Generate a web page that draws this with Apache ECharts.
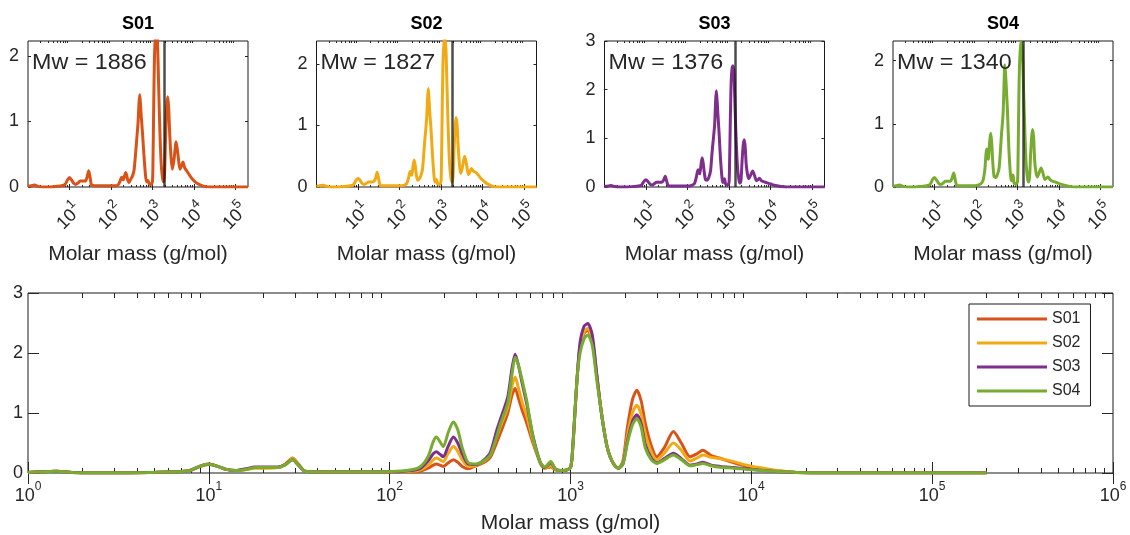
<!DOCTYPE html>
<html>
<head>
<meta charset="utf-8">
<script src="https://cdn.jsdelivr.net/npm/echarts@6/dist/echarts.min.js"></script>
<style>
  html, body { margin: 0; padding: 0; background: #ffffff; }
  #chart { width: 1130px; height: 535px; }
</style>
</head>
<body>
<div id="chart"></div>
<script>
// Molar mass distributions of four samples (log molar mass axis).
const sampleNames = ['S01', 'S02', 'S03', 'S04'];
const mwValues = [1886, 1827, 1376, 1340];

const molarMass = [
  1, 1.2, 1.44, 1.75, 2.2, 3.5, 5, 6.5, 7.8, 9, 10, 11.2, 12.5, 14, 16, 18, 21, 24, 26.5, 29, 31.5, 34,
  40, 60, 85, 110, 130, 147, 163, 174, 181, 190, 198, 211, 225, 238, 252, 272, 300, 330, 360, 390,
  410, 450, 475, 494, 515, 540, 573, 620, 680, 720, 778, 830, 920, 1000, 1030, 1060, 1090, 1130,
  1190, 1247, 1320, 1397, 1460, 1522, 1590, 1656, 1750, 1841, 1950, 2064, 2200, 2326, 2460, 2590,
  2800, 3000, 3300, 3706, 4100, 4585, 5000, 5395, 6000, 6720, 8000, 9440, 11000, 13200, 17800,
  25000, 200000
];

const s01 = [
  0.01, 0.02, 0.03, 0.01, 0, 0, 0.01, 0.02, 0.04, 0.11, 0.145, 0.11, 0.06, 0.04, 0.06, 0.09, 0.09, 0.09, 0.15, 0.25, 0.14, 0.03,
  0.02, 0.02, 0.02, 0.02, 0.02, 0.03, 0.08, 0.13, 0.15, 0.13, 0.11, 0.17, 0.22, 0.18, 0.11, 0.07, 0.12, 0.17, 0.26, 0.5,
  0.67, 1.0, 1.3, 1.41, 1.25, 1.05, 0.83, 0.5, 0.17, 0.08, 0.1, 0.05, 0.04, 0.09, 0.45, 1.05, 1.62, 2.1,
  2.33, 2.38, 2.2, 1.62, 1.15, 0.77, 0.45, 0.27, 0.13, 0.08, 0.2, 0.76, 1.22, 1.38, 1.2, 0.83,
  0.45, 0.27, 0.42, 0.69, 0.5, 0.27, 0.32, 0.38, 0.29, 0.245, 0.17, 0.11, 0.07, 0.04, 0.01,
  0, 0
];
const s02 = [
  0.01, 0.02, 0.03, 0.01, 0, 0, 0.01, 0.02, 0.04, 0.11, 0.14, 0.11, 0.06, 0.04, 0.06, 0.08, 0.08, 0.09, 0.14, 0.24, 0.13, 0.03,
  0.02, 0.02, 0.02, 0.02, 0.03, 0.05, 0.13, 0.22, 0.25, 0.22, 0.19, 0.33, 0.44, 0.36, 0.22, 0.11, 0.13, 0.19, 0.3, 0.6,
  0.78, 1.1, 1.45, 1.6, 1.42, 1.18, 0.95, 0.55, 0.17, 0.08, 0.12, 0.05, 0.04, 0.09, 0.45, 1.05, 1.62, 2.12,
  2.36, 2.41, 2.22, 1.62, 1.15, 0.77, 0.45, 0.27, 0.13, 0.08, 0.17, 0.62, 1.0, 1.13, 0.98, 0.66,
  0.35, 0.22, 0.33, 0.5, 0.38, 0.2, 0.25, 0.3, 0.26, 0.24, 0.19, 0.13, 0.09, 0.05, 0.01,
  0, 0
];
const s03 = [
  0.01, 0.02, 0.03, 0.01, 0, 0, 0.01, 0.02, 0.04, 0.12, 0.15, 0.11, 0.06, 0.04, 0.07, 0.1, 0.1, 0.1, 0.14, 0.22, 0.12, 0.03,
  0.02, 0.02, 0.02, 0.02, 0.04, 0.07, 0.2, 0.32, 0.355, 0.31, 0.27, 0.45, 0.6, 0.5, 0.32, 0.15, 0.14, 0.21, 0.34, 0.7,
  0.9, 1.27, 1.75, 1.98, 1.8, 1.5, 1.15, 0.62, 0.18, 0.09, 0.17, 0.06, 0.04, 0.09, 0.45, 1.05, 1.62, 2.18,
  2.45, 2.49, 2.3, 1.65, 1.15, 0.77, 0.45, 0.27, 0.13, 0.08, 0.15, 0.53, 0.86, 0.97, 0.82, 0.48,
  0.25, 0.17, 0.24, 0.33, 0.24, 0.13, 0.15, 0.18, 0.13, 0.11, 0.09, 0.07, 0.05, 0.03, 0.01,
  0, 0
];
const s04 = [
  0.01, 0.02, 0.03, 0.01, 0, 0, 0.01, 0.02, 0.04, 0.12, 0.15, 0.11, 0.06, 0.04, 0.06, 0.09, 0.09, 0.09, 0.14, 0.22, 0.12, 0.03,
  0.02, 0.02, 0.02, 0.03, 0.05, 0.1, 0.27, 0.52, 0.6, 0.52, 0.44, 0.68, 0.85, 0.72, 0.42, 0.17, 0.15, 0.2, 0.3, 0.6,
  0.82, 1.17, 1.65, 1.93, 1.8, 1.55, 1.2, 0.6, 0.18, 0.1, 0.19, 0.06, 0.04, 0.09, 0.42, 1.05, 1.62, 2.0,
  2.24, 2.3, 2.12, 1.55, 1.15, 0.77, 0.45, 0.27, 0.13, 0.08, 0.15, 0.5, 0.8, 0.91, 0.76, 0.42,
  0.22, 0.16, 0.22, 0.3, 0.22, 0.12, 0.14, 0.16, 0.12, 0.095, 0.08, 0.06, 0.045, 0.03, 0.01,
  0, 0
];
const sampleValues = [s01, s02, s03, s04];

// Upper y limits of the four small panels
const panelYMax = [2.23, 2.37, 3, 2.31];

const sampleColors = ['#D95319', '#F2AA14', '#7E2F8E', '#77AC30'];
const FONT = '"Liberation Sans", Arial, Helvetica, sans-serif';
const INK = '#262626';

// Panel frames: four small panels on top, the overview below
const panels = [
  { left: 28,    top: 41,  width: 220,  height: 146, small: true },
  { left: 316.5, top: 41,  width: 220,  height: 146, small: true },
  { left: 604.5, top: 41,  width: 220,  height: 146, small: true },
  { left: 893,   top: 41,  width: 220,  height: 146, small: true },
  { left: 28,    top: 293, width: 1085, height: 180, small: false }
];

function decades(lo, hi) {
  const out = [];
  for (let v = lo; v <= hi * 1.0001; v *= 10) out.push(v);
  return out;
}
function minorTicks(lo, hi) {
  const out = [];
  for (let d = lo; d < hi; d *= 10) {
    for (let m = 2; m <= 9; m++) {
      const v = m * d;
      if (v < hi) out.push(v);
    }
  }
  return out;
}
// "10" with the exponent raised as a superscript
function powerLabel(v) {
  return '{b|10}{s|' + Math.round(Math.log10(v)) + '}';
}
function powerRich(base, sup, lineH) {
  return {
    b: { fontSize: base, lineHeight: lineH, color: INK, fontFamily: FONT },
    s: { fontSize: sup, lineHeight: sup, verticalAlign: 'top', color: INK, fontFamily: FONT }
  };
}

const grid = [], xAxis = [], yAxis = [], series = [], title = [], graphic = [];

panels.forEach((pn, p) => {
  const xMax = pn.small ? 2e5 : 1e6;
  const major = pn.small ? [10, 100, 1000, 10000, 100000] : decades(1, 1e6);
  const minor = minorTicks(1, xMax);
  const yMax = pn.small ? panelYMax[p] : 3;
  const yTicks = [];
  for (let t = 0; t <= yMax + 1e-9; t += 1) yTicks.push(t);
  const majorLen = pn.small ? 3 : 11;
  const minorLen = pn.small ? 2 : 5;
  const lineW = 3;

  grid.push({
    left: pn.left, top: pn.top, width: pn.width, height: pn.height,
    show: true, borderColor: '#1a1a1a', borderWidth: 1, backgroundColor: 'transparent',
    outerBoundsMode: 'none'
  });

  const baseX = {
    gridIndex: p, type: 'log', logBase: 10, min: 1, max: xMax,
    axisLine: { show: false }, splitLine: { show: false }, minorSplitLine: { show: false }
  };
  xAxis.push(Object.assign({}, baseX, {
    position: 'bottom',
    axisTick: { show: true, inside: true, length: majorLen, customValues: major, lineStyle: { color: INK, width: 1 } },
    axisLabel: pn.small ? {
      show: true, customValues: major, rotate: 45, align: 'center', verticalAlign: 'middle', margin: 30,
      formatter: powerLabel, rich: powerRich(18, 13, 29)
    } : {
      show: true, customValues: major, margin: 8,
      formatter: powerLabel, rich: powerRich(18, 12, 30)
    },
    name: 'Molar mass (g/mol)', nameLocation: 'middle', nameGap: pn.small ? 57 : 40,
    nameTextStyle: { fontSize: 21, color: INK, fontFamily: FONT }
  }));
  xAxis.push(Object.assign({}, baseX, {
    position: 'top',
    axisTick: { show: true, inside: true, length: majorLen, customValues: major, lineStyle: { color: INK, width: 1 } },
    axisLabel: { show: false }
  }));
  xAxis.push(Object.assign({}, baseX, {
    position: 'bottom',
    axisTick: { show: true, inside: true, length: minorLen, customValues: minor, lineStyle: { color: INK, width: 1 } },
    axisLabel: { show: false }
  }));
  xAxis.push(Object.assign({}, baseX, {
    position: 'top',
    axisTick: { show: true, inside: true, length: minorLen, customValues: minor, lineStyle: { color: INK, width: 1 } },
    axisLabel: { show: false }
  }));

  const baseY = {
    gridIndex: p, type: 'value', min: 0, max: yMax,
    axisLine: { show: false }, splitLine: { show: false }
  };
  yAxis.push(Object.assign({}, baseY, {
    position: 'left',
    axisTick: { show: true, inside: true, length: majorLen, customValues: yTicks, lineStyle: { color: INK, width: 1 } },
    axisLabel: {
      show: true, customValues: yTicks, margin: pn.small ? 9 : 5,
      fontSize: 18, color: INK, fontFamily: FONT
    }
  }));
  yAxis.push(Object.assign({}, baseY, {
    position: 'right',
    axisTick: { show: true, inside: true, length: majorLen, customValues: yTicks, lineStyle: { color: INK, width: 1 } },
    axisLabel: { show: false }
  }));

  if (pn.small) {
    const vals = sampleValues[p];
    series.push({
      name: sampleNames[p], type: 'line', xAxisIndex: 4 * p, yAxisIndex: 2 * p,
      data: molarMass.map((m, i) => [m, vals[i]]),
      showSymbol: false, smooth: 0.25, clip: true,
      lineStyle: { color: sampleColors[p], width: lineW },
      itemStyle: { color: sampleColors[p] },
      markLine: {
        silent: true, symbol: ['none', 'none'], animation: false,
        label: { show: false },
        lineStyle: { color: '#111', width: 2.5, type: 'solid', opacity: 0.75 },
        data: [{ xAxis: mwValues[p] }]
      }
    });
    title.push({
      text: sampleNames[p], left: pn.left + pn.width / 2, top: 15, textAlign: 'center', padding: 0,
      textStyle: { fontSize: 18, fontWeight: 'bold', color: '#000', fontFamily: FONT }
    });
    graphic.push({
      type: 'text', x: pn.left + 4, y: 63, z: 100, scaleX: 1.06,
      style: { text: 'Mw = ' + mwValues[p], fontSize: 22, fontFamily: FONT, fill: INK, verticalAlign: 'middle' }
    });
  } else {
    sampleNames.forEach((nm, k) => {
      const vals = sampleValues[k];
      series.push({
        name: nm, type: 'line', xAxisIndex: 4 * p, yAxisIndex: 2 * p,
        data: molarMass.map((m, i) => [m, vals[i]]),
        showSymbol: false, smooth: 0.25, clip: true,
        lineStyle: { color: sampleColors[k], width: lineW },
        itemStyle: { color: sampleColors[k] }
      });
    });
  }
});

const chart = echarts.init(document.getElementById('chart'), null, { renderer: 'canvas' });
chart.setOption({
  animation: false,
  backgroundColor: '#ffffff',
  title: title,
  grid: grid,
  xAxis: xAxis,
  yAxis: yAxis,
  series: series,
  graphic: graphic,
  legend: {
    data: sampleNames, orient: 'vertical', left: 969, top: 304,
    icon: 'rect', itemWidth: 70, itemHeight: 3, itemGap: 4,
    padding: [5, 10, 5, 8],
    borderColor: '#1a1a1a', borderWidth: 1, backgroundColor: '#ffffff',
    textStyle: { fontSize: 16, lineHeight: 20, color: INK, fontFamily: FONT }
  }
});
</script>
</body>
</html>
